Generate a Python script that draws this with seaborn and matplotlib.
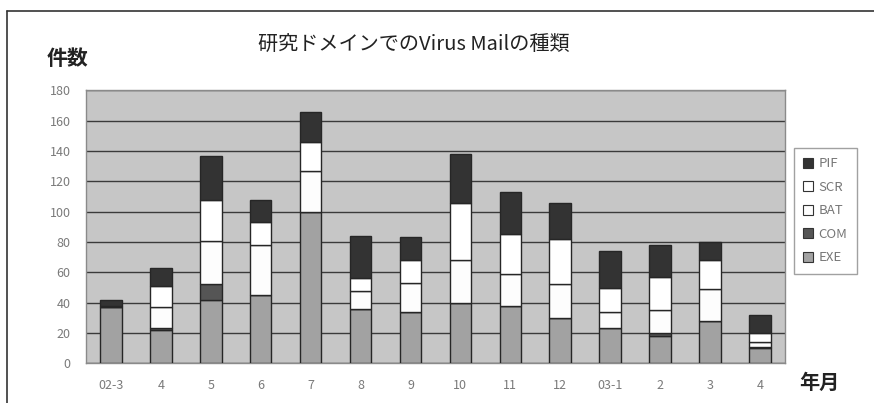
import numpy as np
import pandas as pd
import matplotlib
matplotlib.use("Agg")
import matplotlib.pyplot as plt
from matplotlib.patches import Patch
from matplotlib.lines import Line2D
import seaborn as sns

# Monthly virus-mail counts by attachment type (Mar 2002 - Apr 2003)
months = ["02-3", "02-4", "02-5", "02-6", "02-7", "02-8", "02-9",
          "02-10", "02-11", "02-12", "03-1", "03-2", "03-3", "03-4"]
tick_labels = ["02-3", "4", "5", "6", "7", "8", "9",
               "10", "11", "12", "03-1", "2", "3", "4"]
exe = [37, 22, 42, 45, 100, 36, 34, 40, 38, 30, 23, 18, 28, 10]
com = [0, 1, 10, 0, 0, 0, 0, 0, 0, 0, 0, 2, 0, 1]
bat = [1, 14, 29, 33, 27, 12, 19, 28, 21, 22, 11, 15, 21, 3]
scr = [0, 14, 27, 15, 19, 8, 15, 38, 26, 30, 16, 22, 19, 6]
pif = [4, 12, 29, 15, 20, 28, 15, 32, 28, 24, 24, 21, 12, 12]

series_names = ["EXE", "COM", "BAT", "SCR", "PIF"]
series_values = [exe, com, bat, scr, pif]
series_colors = ["#a2a2a2", "#555555", "#fdfdfd", "#ffffff", "#333333"]

sns.set_style("white")
plt.rcParams["font.family"] = ["Noto Sans CJK JP", "DejaVu Sans"]

fig = plt.figure(figsize=(8.74, 4.03), dpi=100)
ax = fig.add_axes([0.0984, 0.0985, 0.7996, 0.677])
ax.set_facecolor("#c6c6c6")

pos = np.arange(len(months))
bottom = np.zeros(len(months))
for name, vals, col in zip(series_names, series_values, series_colors):
    df = pd.DataFrame({"pos": pos, "count": vals})
    sns.barplot(data=df, x="pos", y="count", bottom=bottom, color=col,
                width=0.43, edgecolor="#262626", linewidth=1.0,
                saturation=1, ax=ax, zorder=3)
    bottom = bottom + np.array(vals)

ax.set_ylim(0, 180)
ax.set_xlim(-0.5, len(months) - 0.5)
ax.set_yticks(np.arange(0, 181, 20))
ax.set_xticks(pos)
ax.set_xticklabels(tick_labels)
ax.yaxis.grid(True, color="#3a3a3a", linewidth=1.0, zorder=1)
ax.set_axisbelow(True)
ax.set_xlabel("")
ax.set_ylabel("")
for sp in ax.spines.values():
    sp.set_color("#8a8a8a")
    sp.set_linewidth(1.0)
ax.tick_params(axis="both", colors="#8a8a8a", labelcolor="#7a7a7a",
               labelsize=9, length=3, width=0.8)
ax.tick_params(axis="y", pad=8)
ax.tick_params(axis="x", pad=8)

# Titles
fig.text(0.474, 0.888, "研究ドメインでのVirus Mailの種類", ha="center",
         va="center", fontsize=14.5, color="#222222")
fig.text(0.053, 0.855, "件数", ha="left", va="center", fontsize=15,
         color="#222222", fontweight="bold")
fig.text(0.914, 0.05, "年月", ha="left", va="center", fontsize=14.5,
         color="#222222", fontweight="bold")

# Legend (top entry is the top of the stack)
handles = [Patch(facecolor=c, edgecolor="#333333", linewidth=0.8, label=n)
           for n, c in zip(series_names, series_colors)][::-1]
leg = fig.legend(handles=handles, loc="upper left",
                 bbox_to_anchor=(0.908, 0.633), frameon=True, fancybox=False,
                 fontsize=9.5, handlelength=0.8, handleheight=0.8,
                 handletextpad=0.4, labelspacing=0.8, borderpad=0.7,
                 borderaxespad=0)
leg.get_frame().set_edgecolor("#8a8a8a")
leg.get_frame().set_linewidth(1.0)
for t in leg.get_texts():
    t.set_color("#777777")

# Outer frame of the chart area
fig.add_artist(Line2D([0.008, 0.008], [0.0, 0.972], color="#333333", lw=1.2))
fig.add_artist(Line2D([0.008, 1.0], [0.972, 0.972], color="#333333", lw=1.2))

fig.savefig("out.png", dpi=100)
